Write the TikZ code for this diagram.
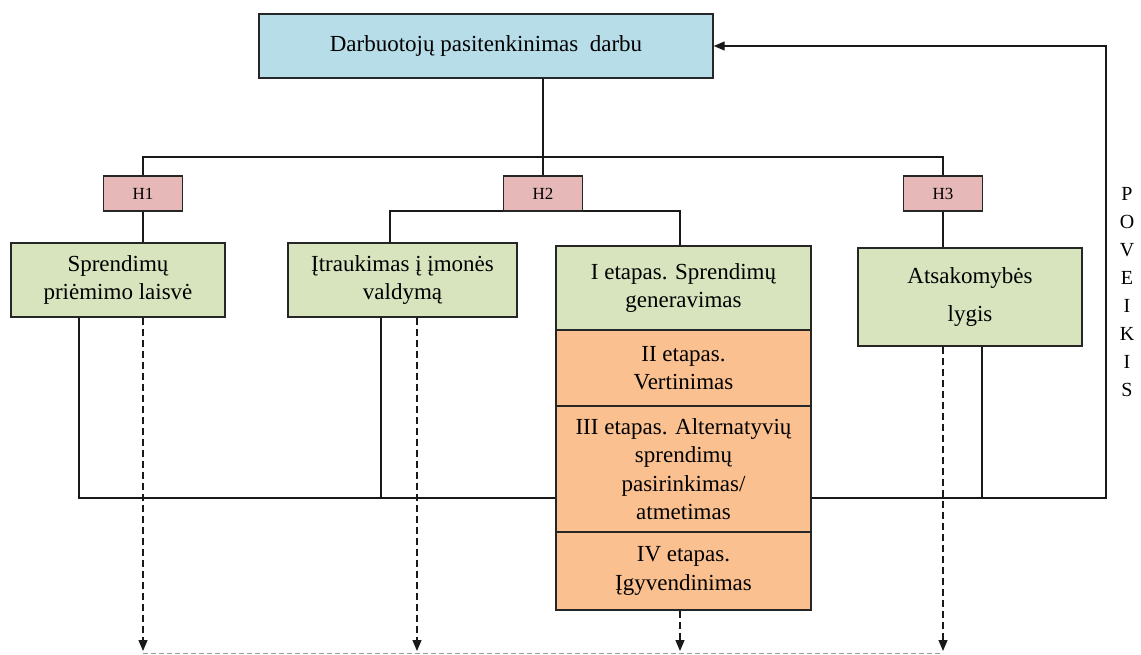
\documentclass[tikz,border=0pt]{standalone}
\usepackage{fontspec}
\setmainfont{Liberation Serif}
\usetikzlibrary{arrows.meta,calc}
\definecolor{cblue}{HTML}{B7DDE8}
\definecolor{cpink}{HTML}{E6B8B7}
\definecolor{cgreen}{HTML}{D7E4BD}
\definecolor{corange}{HTML}{FAC090}
\begin{document}
\begin{tikzpicture}[x=1pt,y=-1pt,
  box/.style={draw=black!85, line width=1.4pt, align=center, inner sep=2pt,
    font=\fontsize{23}{28.5}\selectfont},
  hbox/.style={draw=black!85, line width=1.4pt, fill=cpink, minimum width=79pt, minimum height=35pt,
    font=\fontsize{17}{20}\selectfont, inner sep=0pt},
  conn/.style={line width=1.3pt, draw=black!90},
  dashconn/.style={line width=1.3pt, draw=black!90, dash pattern=on 7pt off 4pt, -{Triangle[length=11pt,width=9pt]}},
  tip/.style={-{Triangle[length=11pt,width=9pt]}}]
\useasboundingbox (0,0) rectangle (1141,654);

% coordinates
\coordinate (bus) at (543,157);
\coordinate (b2l) at (390,211);
\coordinate (b2r) at (680,211);
\coordinate (f1) at (79,498);
\coordinate (f2) at (381,498);
\coordinate (f3) at (982,498);
\coordinate (fb) at (1106,498);
\coordinate (d1) at (143,651);
\coordinate (d2) at (417,651);
\coordinate (d3) at (680,651);
\coordinate (d4) at (943,651);
\coordinate (g1) at (143,653);
\coordinate (g2) at (943,653);

% H2 bracket (drawn under the H boxes)
\draw[conn] (b2l) ++(0,32) -- (b2l) -- (b2r) -- ++(0,35);

% nodes
\node[box, fill=cblue, minimum width=454pt, minimum height=64pt] (top) at (486,46) {Darbuotojų pasitenkinimas\ \ darbu};
\node[hbox] (h1) at (143,193.5) {H1};
\node[hbox] (h2) at (543,193.5) {H2};
\node[hbox] (h3) at (943,193.5) {H3};
\node[box, fill=cgreen, minimum width=214pt, minimum height=74pt] (s1) at (118,280) {Sprendimų\\priėmimo laisvė};
\node[box, fill=cgreen, minimum width=229pt, minimum height=74pt] (s2) at (402.5,280) {Įtraukimas į įmonės\\valdymą};
\node[box, fill=cgreen, minimum width=224pt, minimum height=98pt] (s3) at (970,297) {Atsakomybės\\[10pt]lygis};
\node[box, fill=cgreen, minimum width=255pt, minimum height=84pt] (e1) at (683.5,288) {I etapas. Sprendimų\\generavimas};
\node[box, fill=corange, minimum width=255pt, minimum height=76pt] (e2) at (683.5,368) {II etapas.\\Vertinimas};
\node[box, fill=corange, minimum width=255pt, minimum height=126pt] (e3) at (683.5,469) {III etapas. Alternatyvių\\sprendimų\\pasirinkimas/\\atmetimas};
\node[box, fill=corange, minimum width=255pt, minimum height=78pt] (e4) at (683.5,571) {IV etapas.\\Įgyvendinimas};
\node[align=center, font=\fontsize{20}{28}\selectfont, inner sep=0pt] (pov) at (1127,292) {P\\O\\V\\E\\I\\K\\I\\S};

% tree connectors
\draw[conn] (top.south -| h2) -- (h2.north);
\draw[conn] (h1.north) -- (h1.north |- bus) -- (h3.north |- bus) -- (h3.north);
\draw[conn] (h1.south) -- (h1.south |- s1.north);
\draw[conn] (h3.south) -- (h3.south |- s3.north);

% feedback
\draw[conn] (f1 |- s1.south) -- (f1) -- (e3.west |- f1);
\draw[conn] (f2 |- s2.south) -- (f2);
\draw[conn] (f3 |- s3.south) -- (f3);
\draw[conn, tip] (e3.east |- f1) -- (fb) |- (top.east);

% bottom dashed
\draw[line width=0.8pt, draw=black!40, dash pattern=on 5pt off 3pt] (g1) -- (g2);
\draw[dashconn] (d1 |- s1.south) -- (d1);
\draw[dashconn] (d2 |- s2.south) -- (d2);
\draw[dashconn] (e4.south -| d3) -- (d3);
\draw[dashconn] (d4 |- s3.south) -- (d4);
\end{tikzpicture}
\end{document}
